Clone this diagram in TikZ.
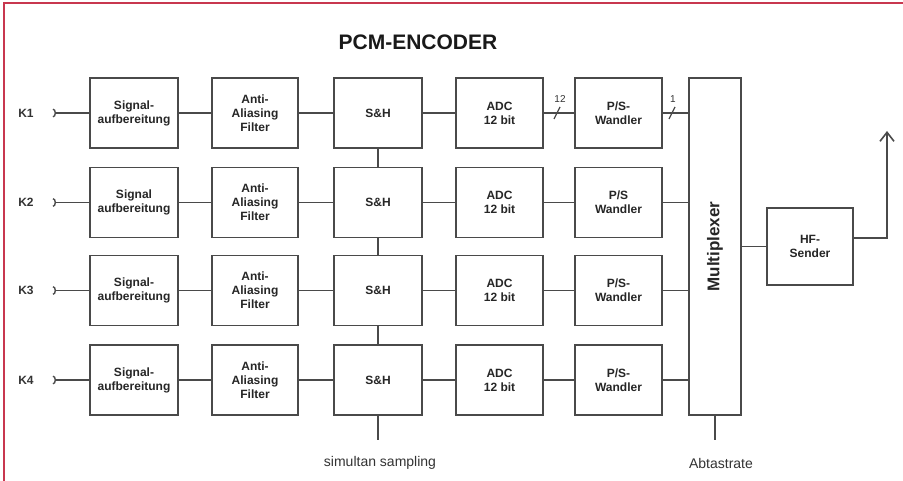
\documentclass[tikz,border=0pt]{standalone}
\usepackage{fontspec}
\setmainfont{Liberation Sans}
\usetikzlibrary{arrows.meta}
\definecolor{framered}{HTML}{C8374F}
\definecolor{ln}{HTML}{4A4A4A}
\begin{document}
\begin{tikzpicture}[x=1pt,y=-1pt,
  blk/.style={draw=ln, line width=1.9pt, fill=white, align=center, inner sep=0pt,
    font=\fontsize{12}{14}\selectfont\bfseries, text=black!85},
  wire/.style={draw=ln, line width=1.9pt},
  klabel/.style={font=\fontsize{12}{14}\selectfont\bfseries, text=black!80},
  small/.style={font=\fontsize{10}{12}\selectfont, text=black!80},
  bottomlabel/.style={font=\fontsize{14}{16}\selectfont, text=black!80},
  inputtip/.style={{Arc Barb[reversed,length=3pt,width=9pt,line width=1.4pt]}-}]
\useasboundingbox (0,0) rectangle (903,481);
\fill[white] (0,0) rectangle (903,481);
\draw[framered, line width=2pt] (4,485) -- (4,3) -- (906,3);

\node[font=\fontsize{21}{24}\selectfont\bfseries, text=black!90] (title) at (418,42) {PCM-ENCODER};

\node[blk, minimum width=52pt, minimum height=337pt] (mux) at (715,246.5)
  {\rotatebox{90}{\fontsize{17}{20}\selectfont Multiplexer}};
\node[blk, minimum width=86pt, minimum height=77pt] (hf) at (810,246.5) {HF-\\Sender};

\foreach \i/\y/\hy in {1/113/-, 2/202.5/{}, 3/290.5/-, 4/380/-}{
  \node[klabel] (kl\i) at (26,\y) {K\i};
  \coordinate (k\i) at (53,\y);
  \node[blk, minimum width=88pt, minimum height=70pt] (sig\i) at (134,\y) {Signal\hy\\aufbereitung};
  \node[blk, minimum width=86pt, minimum height=70pt] (aa\i) at (255,\y) {Anti-\\Aliasing\\Filter};
  \node[blk, minimum width=88pt, minimum height=70pt] (sh\i) at (378,\y) {S\&H};
  \node[blk, minimum width=87pt, minimum height=70pt] (adc\i) at (499.5,\y) {ADC\\12 bit};
  \node[blk, minimum width=87pt, minimum height=70pt] (ps\i) at (618.5,\y) {P/S\hy\\Wandler};
  \draw[wire, inputtip] (k\i) -- (sig\i.west);
  \draw[wire] (sig\i) -- (aa\i);
  \draw[wire] (aa\i) -- (sh\i);
  \draw[wire] (sh\i) -- (adc\i);
  \draw[wire] (adc\i) -- (ps\i);
  \draw[wire] (ps\i.east) -- (mux.west |- ps\i.east);
}

\draw[wire] (sh1) -- (sh2);
\draw[wire] (sh2) -- (sh3);
\draw[wire] (sh3) -- (sh4);
\coordinate (shb) at (378,440);
\draw[wire] (sh4.south) -- (shb);
\node[bottomlabel] (simlabel) at (380,463) {simultan sampling};

\coordinate (muxb) at (715,440);
\draw[wire] (mux.south) -- (muxb);
\node[bottomlabel] (abtlabel) at (721,463) {Abtastrate};

\draw[wire] (mux) -- (hf);
\coordinate (ant) at (887,131);
\draw[wire, -{Straight Barb[length=9pt,width=14pt,line width=1.6pt]}] ([yshift=8.5pt]hf.east) -| (ant);

\coordinate (m12) at (557,113);
\draw[wire, line width=1.3pt] (m12) +(-3,6) -- +(3,-6);
\node[small] (n12) at (560,99) {12};
\coordinate (m1) at (672,113);
\draw[wire, line width=1.3pt] (m1) +(-3,6) -- +(3,-6);
\node[small] (n1) at (673,99) {1};
\end{tikzpicture}
\end{document}
